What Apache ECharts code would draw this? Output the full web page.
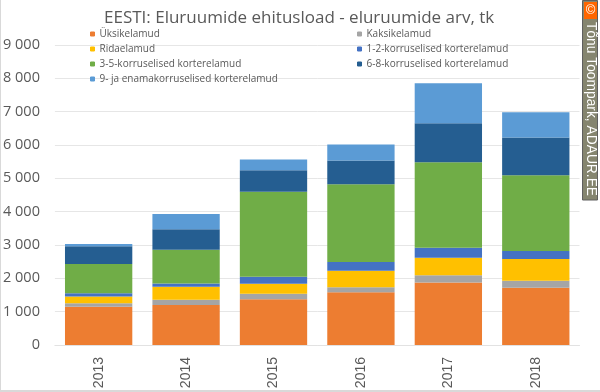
<!DOCTYPE html>
<html><head><meta charset="utf-8">
<style>html,body{margin:0;padding:0;background:#fff}#c{width:600px;height:392px}</style>
<script src="https://cdn.jsdelivr.net/npm/echarts@6/dist/echarts.min.js"></script></head>
<body><div id="c"></div>
<script>
const categories = ['2013','2014','2015','2016','2017','2018'];
const yTicks = [0,1000,2000,3000,4000,5000,6000,7000,8000,9000];
const yksikelamud = [1150,1200,1375,1585,1875,1715];
const kaksikelamud = [100,155,160,150,220,210];
const ridaelamud = [205,390,300,490,525,655];
const k12 = [100,100,210,265,300,240];
const k35 = [875,1015,2555,2335,2560,2275];
const k68 = [530,610,645,710,1170,1130];
const k9 = [70,460,320,480,1205,755];
const seriesDefs = [
 ['Üksikelamud',yksikelamud,'#ED7D31'],
 ['Kaksikelamud',kaksikelamud,'#A5A5A5'],
 ['Ridaelamud',ridaelamud,'#FFC000'],
 ['1-2-korruselised korterelamud',k12,'#4472C4'],
 ['3-5-korruselised korterelamud',k35,'#70AD47'],
 ['6-8-korruselised korterelamud',k68,'#255E91'],
 ['9- ja enamakorruselised korterelamud',k9,'#5B9BD5']
];
const font='"Open Sans"';
const chart=echarts.init(document.getElementById('c'),null,{renderer:'canvas'});
const fmt=v=>String(v).replace(/\B(?=(\d{3})+$)/g,' ');
function leg(name,color,left,top){return {show:true,data:[name],orient:'vertical',left,top,itemWidth:4,itemHeight:4,itemGap:0,icon:'rect',padding:0,selectedMode:false,
  itemStyle:{borderWidth:1,borderColor:color},
  textStyle:{color:'#595959',fontFamily:font,fontSize:10}};}
const L=seriesDefs;
chart.setOption({
 animation:false,
 backgroundColor:'#fff',
 title:{text:'EESTI: Eluruumide ehitusload - eluruumide arv, tk',left:104,top:10,padding:0,textStyle:{color:'#595959',fontFamily:font,fontSize:17,fontWeight:'normal'}},
 legend:[leg(L[0][0],L[0][2],90,29),leg(L[1][0],L[1][2],357,29),leg(L[2][0],L[2][2],90,44),leg(L[3][0],L[3][2],357,44),leg(L[4][0],L[4][2],90,59),leg(L[5][0],L[5][2],357,59),leg(L[6][0],L[6][2],90,74)],
 grid:{left:52.5,right:20.5,top:45,bottom:47,containLabel:false},
 xAxis:{type:'category',data:categories,axisTick:{show:false},axisLine:{lineStyle:{color:'#E2E2E2'}},
   axisLabel:{rotate:90,color:'#595959',fontFamily:'"Liberation Sans"',fontSize:14,margin:12}},
 yAxis:{type:'value',min:yTicks[0],max:yTicks[yTicks.length-1],interval:yTicks[1]-yTicks[0],axisLine:{show:false},axisTick:{show:false},
   splitLine:{lineStyle:{color:'#E6E6E6',width:1}},
   axisLabel:{color:'#595959',fontFamily:font,fontSize:14.5,margin:15,formatter:fmt}},
 series:seriesDefs.map(s=>({name:s[0],type:'bar',stack:'t',data:s[1],barWidth:'77%',itemStyle:{color:s[2]}})),
 graphic:[
  {type:'rect',left:0,top:0,shape:{width:1,height:392},style:{fill:'#D9D9D9'}},
  {type:'rect',left:0,top:390,shape:{width:600,height:2},style:{fill:'#D9D9D9'}},
  {type:'rect',x:582.5,y:0.5,shape:{width:15,height:199.5},style:{fill:'#85856F',stroke:'#5F5F5F',lineWidth:1}},
  {type:'rect',x:584,y:2,shape:{width:13,height:17},style:{fill:'#FF6600'}},
  {type:'text',x:590.5,y:10.5,style:{text:'©',fill:'#fff',font:'13px "Liberation Sans"',align:'center',verticalAlign:'middle'}},
  {type:'text',x:590.5,y:22,rotation:-Math.PI/2,style:{text:'Tõnu Toompark, ADAUR.EE',fill:'#fff',font:'13.8px "Liberation Sans"',align:'left',verticalAlign:'middle'}}
 ]
});
</script></body></html>
